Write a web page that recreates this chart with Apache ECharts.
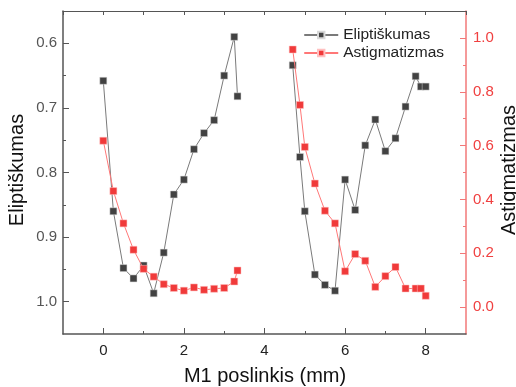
<!DOCTYPE html>
<html>
<head>
<meta charset="utf-8">
<script src="https://cdn.jsdelivr.net/npm/echarts@6/dist/echarts.min.js"></script>
<style>html,body{margin:0;padding:0;background:#fff}#c{width:516px;height:387px}</style>
</head>
<body>
<div id="c"></div>
<script>
// Segment 1
const x1 = [0, 0.25, 0.5, 0.75, 1.0, 1.25, 1.5, 1.75, 2.0, 2.25, 2.5, 2.75, 3.0, 3.25, 3.33];
const elip1 = [0.658, 0.860, 0.948, 0.964, 0.944, 0.987, 0.924, 0.834, 0.811, 0.764, 0.739, 0.719, 0.650, 0.590, 0.682];
const astig1 = [0.618, 0.431, 0.311, 0.213, 0.142, 0.113, 0.085, 0.071, 0.061, 0.073, 0.064, 0.068, 0.071, 0.095, 0.136];
// Segment 2
const x2 = [4.7, 4.88, 5.0, 5.25, 5.5, 5.75, 6.0, 6.25, 6.5, 6.75, 7.0, 7.25, 7.5, 7.75, 7.88, 8.0];
const elip2 = [0.634, 0.776, 0.860, 0.958, 0.974, 0.983, 0.811, 0.858, 0.758, 0.718, 0.767, 0.747, 0.698, 0.651, 0.667, 0.667];
const astig2 = [0.957, 0.751, 0.595, 0.459, 0.358, 0.311, 0.133, 0.197, 0.172, 0.075, 0.115, 0.149, 0.069, 0.069, 0.069, 0.042];
const xTicks = [0, 2, 4, 6, 8];
const xMinor = [1, 3, 5, 7];
const leftTicks = [0.6, 0.7, 0.8, 0.9, 1.0];
const leftMinor = [0.65, 0.75, 0.85, 0.95];
const rightTicks = [0.0, 0.2, 0.4, 0.6, 0.8, 1.0];
const rightMinor = [0.1, 0.3, 0.5, 0.7, 0.9];

const zip = (a, b) => a.map((v, i) => [v, b[i]]);
const FONT = 'Arial, "Liberation Sans", sans-serif';
const GRAY = '#555';
const RED = '#f04040';

const chart = echarts.init(document.getElementById('c'), null, {renderer: 'canvas'});
const blackS = (data) => ({
  name: 'Eliptiškumas', type: 'line', xAxisIndex: 0, yAxisIndex: 0, data,
  symbol: 'rect', symbolSize: 7, showAllSymbol: true,
  itemStyle: {color: '#424242', borderColor: '#d8d8d8', borderWidth: 0.5},
  lineStyle: {color: '#7a7a7a', width: 1}, emphasis: {disabled: true}, animation: false, z: 2
});
const redS = (data) => ({
  name: 'Astigmatizmas', type: 'line', xAxisIndex: 0, yAxisIndex: 1, data,
  symbol: 'rect', symbolSize: 7, showAllSymbol: true,
  itemStyle: {color: '#f03a3a', borderColor: '#ffc0c0', borderWidth: 0.5},
  lineStyle: {color: '#f77', width: 1}, emphasis: {disabled: true}, animation: false, z: 3
});

chart.setOption({
  animation: false,
  textStyle: {fontFamily: FONT},
  grid: {left: 63, right: 50, top: 11, bottom: 53, containLabel: false},
  legend: {
    orient: 'vertical', right: 67, top: 22, itemWidth: 34, itemHeight: 8, itemGap: 2,
    data: ['Eliptiškumas', 'Astigmatizmas'],
    textStyle: {fontSize: 15.5, color: '#222', fontFamily: FONT}
  },
  xAxis: [
    {type: 'value', position: 'bottom', min: -1, max: 9, interval: 1,
     axisLine: {show: true, onZero: false, lineStyle: {color: '#555', width: 1.5}},
     axisTick: {show: true, inside: true, length: 6, customValues: xTicks, lineStyle: {color: '#555'}},
     axisLabel: {customValues: xTicks, fontSize: 15, color: '#222', margin: 9, fontFamily: FONT},
     splitLine: {show: false}},
    {type: 'value', position: 'bottom', min: -1, max: 9, interval: 1,
     axisLine: {show: false, onZero: false},
     axisTick: {show: true, inside: true, length: 3, customValues: xMinor, lineStyle: {color: '#555'}},
     axisLabel: {show: false}, splitLine: {show: false}},
    {type: 'value', position: 'top', min: -1, max: 9, interval: 1,
     axisLine: {show: true, onZero: false, lineStyle: {color: '#555', width: 1}},
     axisTick: {show: true, inside: true, length: 4, lineStyle: {color: '#555'}},
     axisLabel: {show: false}, splitLine: {show: false}}
  ],
  yAxis: [
    {type: 'value', position: 'left', inverse: true, min: 0.55, max: 1.05, interval: 0.05,
     axisLine: {show: true, onZero: false, lineStyle: {color: '#555', width: 1.5}},
     axisTick: {show: true, inside: true, length: 6, customValues: leftTicks, lineStyle: {color: '#555'}},
     axisLabel: {customValues: leftTicks, fontSize: 15, color: GRAY, margin: 6, fontFamily: FONT,
                 formatter: v => v.toFixed(1)},
     splitLine: {show: false}},
    {type: 'value', position: 'right', min: -0.1, max: 1.1, interval: 0.1,
     axisLine: {show: true, onZero: false, lineStyle: {color: '#f27878', width: 1.5}},
     axisTick: {show: true, inside: true, length: 6, customValues: rightTicks, lineStyle: {color: '#f27878'}},
     axisLabel: {customValues: rightTicks, fontSize: 15, color: RED, margin: 7, fontFamily: FONT,
                 formatter: v => v.toFixed(1)},
     splitLine: {show: false}},
    {type: 'value', position: 'left', inverse: true, min: 0.55, max: 1.05, interval: 0.05,
     axisLine: {show: false, onZero: false},
     axisTick: {show: true, inside: true, length: 3, customValues: leftMinor, lineStyle: {color: '#555'}},
     axisLabel: {show: false}, splitLine: {show: false}},
    {type: 'value', position: 'right', min: -0.1, max: 1.1, interval: 0.1,
     axisLine: {show: false, onZero: false},
     axisTick: {show: true, inside: true, length: 3, customValues: rightMinor, lineStyle: {color: '#f27878'}},
     axisLabel: {show: false}, splitLine: {show: false}}
  ],
  graphic: [
    {type: 'text', x: 265, y: 376, style: {text: 'M1 poslinkis (mm)', fill: '#111', font: '20px ' + FONT, align: 'center', verticalAlign: 'middle'}},
    {type: 'text', x: 17, y: 170, rotation: Math.PI / 2, style: {text: 'Eliptiškumas', fill: '#111', font: '20px ' + FONT, align: 'center', verticalAlign: 'middle'}},
    {type: 'text', x: 509, y: 170, rotation: Math.PI / 2, style: {text: 'Astigmatizmas', fill: '#111', font: '20px ' + FONT, align: 'center', verticalAlign: 'middle'}}
  ],
  series: [
    blackS(zip(x1, elip1)), blackS(zip(x2, elip2)),
    redS(zip(x1, astig1)), redS(zip(x2, astig2))
  ]
});
</script>
</body>
</html>
